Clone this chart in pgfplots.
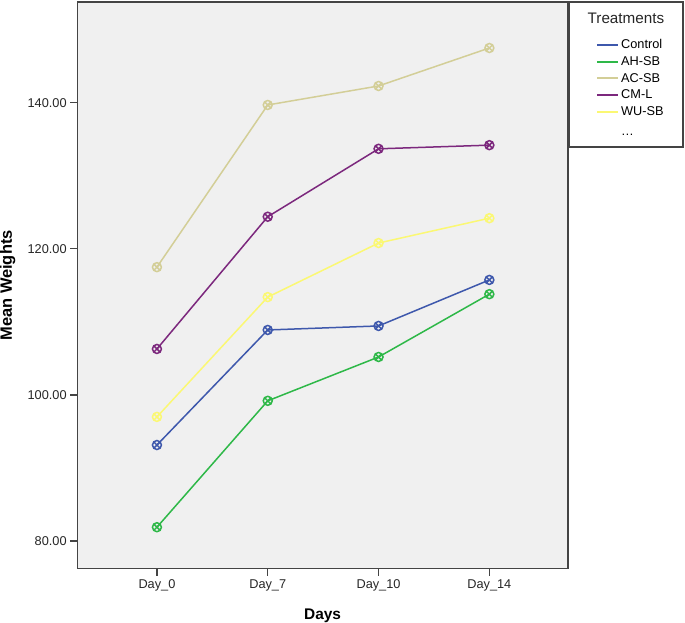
\documentclass[border=0pt]{standalone}
\usepackage{fontspec}
\setmainfont{Liberation Sans}
\usepackage{pgfplots}
\pgfplotsset{compat=1.18}
\definecolor{cCtrl}{HTML}{3E58AC}
\definecolor{cAH}{HTML}{2EB848}
\definecolor{cAC}{HTML}{D3CE97}
\definecolor{cCM}{HTML}{7C287D}
\definecolor{cWU}{HTML}{FBF873}
\definecolor{bgc}{HTML}{F0F0F0}
\definecolor{framec}{HTML}{444444}
\begin{document}
\begin{tikzpicture}
\begin{axis}[
  scale only axis, width=491bp, height=567bp,
  xmin=-0.72, xmax=3.71, ymin=76.2, ymax=153.8,
  axis background/.style={fill=bgc},
  axis line style={framec, line width=1.2bp},
  xtick={0,1,2,3}, xticklabels={Day\_0,Day\_7,Day\_10,Day\_14},
  ytick={80,100,120,140}, yticklabels={80.00,100.00,120.00,140.00},
  tick align=outside, major tick length=7bp,
  tick style={framec, line width=1.2bp},
  xtick pos=bottom, ytick pos=left,
  ticklabel style={font=\fontsize{12.8}{15}\selectfont, text=black!85},
  xlabel={Days}, ylabel={Mean Weights},
  xlabel style={font=\fontsize{15.5}{18}\selectfont\bfseries, inner sep=0pt,
    at={(axis description cs:0.5,-0.082)}, anchor=center},
  ylabel style={font=\fontsize{16.5}{19}\selectfont\bfseries, inner sep=0pt,
    at={(axis description cs:-0.1415,0.5)}, anchor=center},
  clip=false,
  legend style={at={(axis description cs:1.057,0.938)}, anchor=north west,
    draw=none, fill=none, inner sep=0pt, font=\fontsize{12.8}{15}\selectfont,
    row sep=2.4bp, cells={anchor=west}},
  legend image code/.code={\draw[line width=2bp] (0bp,0bp) -- (21bp,0bp);},
  every axis plot/.append style={line width=1.5bp, mark=otimes, mark size=4.5bp},
]
\path (axis description cs:-0.1568,-0.0952) rectangle (axis description cs:1.2383,1.0035);
\draw[framec, line width=1.3bp] (axis description cs:1.002,1.0) rectangle (axis description cs:1.234,0.744);
\node[font=\fontsize{15.3}{18}\selectfont, text=black!85] at (axis description cs:1.118,0.971) {Treatments};

\addplot[cCtrl] coordinates {(0,93.15) (1,108.9) (2,109.45) (3,115.75)};
\addlegendentry{Control}
\addplot[cAH] coordinates {(0,81.9) (1,99.2) (2,105.2) (3,113.8)};
\addlegendentry{AH-SB}
\addplot[cAC] coordinates {(0,117.5) (1,139.7) (2,142.3) (3,147.5)};
\addlegendentry{AC-SB}
\addplot[cCM] coordinates {(0,106.3) (1,124.4) (2,133.7) (3,134.2)};
\addlegendentry{CM-L}
\addplot[cWU] coordinates {(0,97.0) (1,113.4) (2,120.8) (3,124.2)};
\addlegendentry{WU-SB}
\addlegendimage{empty legend}
\addlegendentry{\rule{0pt}{12bp}\dots}
\end{axis}
\end{tikzpicture}
\end{document}
